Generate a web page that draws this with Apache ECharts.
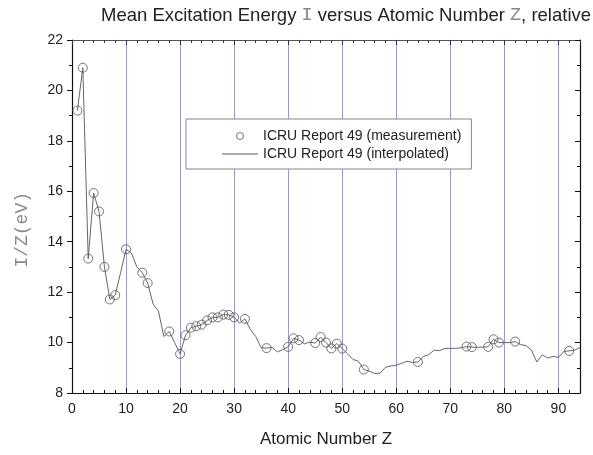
<!DOCTYPE html>
<html>
<head>
<meta charset="utf-8">
<script src="https://cdn.jsdelivr.net/npm/echarts@6/dist/echarts.min.js"></script>
<style>html,body{margin:0;padding:0;background:#fff}#c{width:593px;height:455px}</style>
</head>
<body>
<div id="c"></div>
<script>
// Interpolated curve: Z = 1..94, I/Z (eV)
const zAll = [1,2,3,4,5,6,7,8,9,10,11,12,13,14,15,16,17,18,19,20,21,22,23,24,25,26,27,28,29,30,31,32,33,34,35,36,37,38,39,40,41,42,43,44,45,46,47,48,49,50,51,52,53,54,55,56,57,58,59,60,61,62,63,64,65,66,67,68,69,70,71,72,73,74,75,76,77,78,79,80,81,82,83,84,85,86,87,88,89,90,91,92,93,94];
const interpValues = [19.2,20.9,13.33,15.93,15.2,13.0,11.71,11.88,12.78,13.7,13.55,13.0,12.77,12.36,11.53,11.25,10.24,10.44,10.0,9.55,10.29,10.59,10.65,10.71,10.88,11.0,11.0,11.11,11.1,11.0,10.77,10.94,10.52,10.24,9.8,9.78,9.81,9.63,9.72,9.83,10.17,10.1,9.95,10.02,9.98,10.22,10.0,9.77,9.96,9.76,9.55,9.33,9.26,8.93,8.87,8.77,8.79,9.02,9.07,9.1,9.18,9.26,9.21,9.23,9.45,9.52,9.7,9.68,9.77,9.77,9.77,9.79,9.84,9.82,9.81,9.82,9.83,10.13,10.0,10.0,10.0,10.04,9.92,9.88,9.71,9.23,9.51,9.39,9.45,9.41,9.65,9.67,9.7,9.8];
// Measured points
const measZ = [1,2,3,4,5,6,7,8,10,13,14,18,20,21,22,23,24,25,26,27,28,29,30,32,36,40,41,42,45,46,47,48,49,50,54,64,73,74,77,78,79,82,92];
const measValues = [19.2,20.9,13.33,15.93,15.2,13.0,11.71,11.88,13.7,12.77,12.36,10.44,9.55,10.29,10.59,10.65,10.71,10.88,11.0,11.0,11.11,11.1,11.0,10.94,9.78,9.83,10.17,10.1,9.98,10.22,10.0,9.77,9.96,9.76,8.93,9.23,9.84,9.82,9.83,10.13,10.0,10.04,9.67];
const xTicks = [0,10,20,30,40,50,60,70,80,90];
const yTicks = [8,10,12,14,16,18,20,22];

const lineData = zAll.map((z,i)=>[z, interpValues[i]]);
const measData = measZ.map((z,i)=>[z, measValues[i]]);

const chart = echarts.init(document.getElementById('c'), null, {renderer:'canvas'});
const sans = 'Liberation Sans, Arial, sans-serif';
const mono = 'Liberation Mono, Courier New, monospace';
chart.setOption({
  backgroundColor:'#fff',
  animation:false,
  title:{
    text:'Mean Excitation Energy {m|I} versus Atomic Number {m|Z}, relative',
    left:96, top:1,
    textStyle:{fontSize:18.5, fontWeight:'normal', color:'#222', fontFamily:sans,
      rich:{m:{fontFamily:mono, color:'#888', fontSize:18.5}}}
  },
  graphic:[{
    type:'text', left:13, top:192, rotation:Math.PI/2,
    style:{text:'I/Z(eV)', font:'18px '+mono, fill:'#888'}
  }],
  legend:{
    orient:'vertical', left:186, top:119,
    padding:[10,10,8,36], itemGap:4, itemWidth:36, itemHeight:7, itemTextGap:5,
    backgroundColor:'#fff', borderColor:'#888', borderWidth:1,
    textStyle:{fontSize:14, color:'#222', fontFamily:sans},
    data:[
      {name:'ICRU Report 49 (measurement)', icon:'circle',
        itemStyle:{color:'rgba(0,0,0,0)', borderColor:'#555', borderWidth:1}},
      {name:'ICRU Report 49 (interpolated)', icon:'path://M0,0H36V1H0Z',
        itemStyle:{color:'#555', borderWidth:0}}
    ]
  },
  grid:{left:72, right:13, top:40, bottom:62},
  xAxis:[{
    type:'value', min:0, max:94, interval:10, position:'bottom',
    name:'Atomic Number Z', nameLocation:'middle', nameGap:38,
    nameTextStyle:{fontSize:17, color:'#222', fontFamily:sans},
    axisLine:{show:true, onZero:false, lineStyle:{color:'#111', width:1.2}},
    axisTick:{show:true, inside:true, length:5, lineStyle:{color:'#111'}},
    minorTick:{show:true, splitNumber:5, length:3, lineStyle:{color:'#111'}},
    axisLabel:{fontSize:14, color:'#222', margin:9, fontFamily:sans,
      formatter:v=>xTicks.includes(v)?String(v):''},
    splitLine:{show:true, lineStyle:{color:'#9494ff', width:1}}
  },{
    type:'value', min:0, max:94, interval:10, position:'top',
    axisLine:{show:true, onZero:false, lineStyle:{color:'#555', width:1.2}},
    axisTick:{show:true, inside:true, length:5, lineStyle:{color:'#333'}},
    minorTick:{show:true, splitNumber:5, length:3, lineStyle:{color:'#333'}},
    axisLabel:{show:false}, splitLine:{show:false}
  }],
  yAxis:[{
    type:'value', min:8, max:22, interval:2, position:'left',
    axisLine:{show:true, onZero:false, lineStyle:{color:'#111', width:1.2}},
    axisTick:{show:true, inside:false, length:5, lineStyle:{color:'#111'}},
    minorTick:{show:true, splitNumber:2, length:3, lineStyle:{color:'#111'}},
    axisLabel:{fontSize:14, color:'#222', margin:9, fontFamily:sans,
      formatter:v=>yTicks.includes(v)?String(v):''},
    splitLine:{show:false}
  },{
    type:'value', min:8, max:22, interval:2, position:'right',
    axisLine:{show:true, onZero:false, lineStyle:{color:'#111', width:1.2}},
    axisTick:{show:true, inside:true, length:5, lineStyle:{color:'#111'}},
    minorTick:{show:true, splitNumber:2, length:3, lineStyle:{color:'#111'}},
    axisLabel:{show:false}, splitLine:{show:false}
  }],
  series:[{
    name:'ICRU Report 49 (measurement)', type:'scatter', data:measData,
    symbol:'circle', symbolSize:9, z:3,
    itemStyle:{color:'rgba(0,0,0,0)', borderColor:'#555', borderWidth:1}
  },{
    name:'ICRU Report 49 (interpolated)', type:'line', data:lineData,
    symbol:'none', z:2,
    lineStyle:{color:'#666', width:1},
    itemStyle:{color:'#666'}
  }]
});
</script>
</body>
</html>
